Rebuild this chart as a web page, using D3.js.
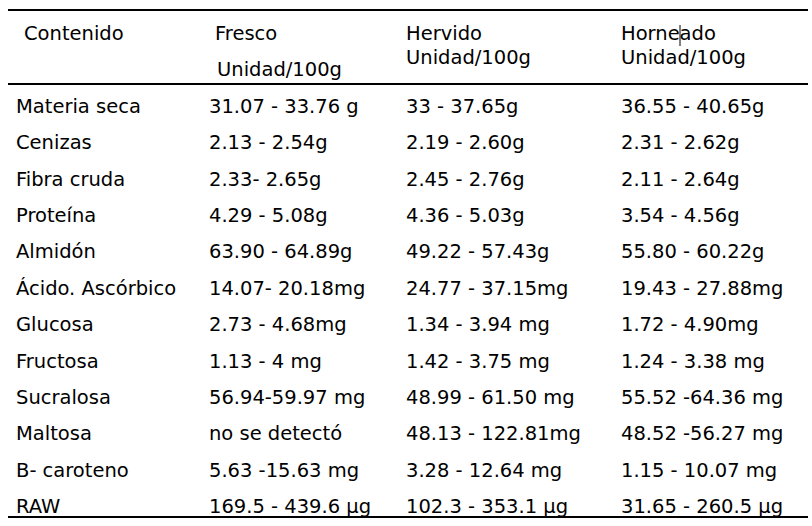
<!DOCTYPE html>
<html><head><meta charset="utf-8">
<script src="https://cdn.jsdelivr.net/npm/d3@7"></script>
<style>body{margin:0;background:#fff}</style>
</head><body>
<div id="chart"></div>
<script>
// table contents
const headers = [["Contenido"], ["Fresco", "Unidad/100g"], ["Hervido", "Unidad/100g"], ["Horneado", "Unidad/100g"]];
const contenido = ["Materia seca", "Cenizas", "Fibra cruda", "Proteína", "Almidón", "Ácido. Ascórbico",
  "Glucosa", "Fructosa", "Sucralosa", "Maltosa", "B- caroteno", "RAW"];
const fresco = ["31.07 - 33.76 g", "2.13 - 2.54g", "2.33- 2.65g", "4.29 - 5.08g", "63.90 - 64.89g",
  "14.07- 20.18mg", "2.73 - 4.68mg", "1.13 - 4 mg", "56.94-59.97 mg", "no se detectó",
  "5.63 -15.63 mg", "169.5 - 439.6 µg"];
const hervido = ["33 - 37.65g", "2.19 - 2.60g", "2.45 - 2.76g", "4.36 - 5.03g", "49.22 - 57.43g",
  "24.77 - 37.15mg", "1.34 - 3.94 mg", "1.42 - 3.75 mg", "48.99 - 61.50 mg", "48.13 - 122.81mg",
  "3.28 - 12.64 mg", "102.3 - 353.1 µg"];
const horneado = ["36.55 - 40.65g", "2.31 - 2.62g", "2.11 - 2.64g", "3.54 - 4.56g", "55.80 - 60.22g",
  "19.43 - 27.88mg", "1.72 - 4.90mg", "1.24 - 3.38 mg", "55.52 -64.36 mg", "48.52 -56.27 mg",
  "1.15 - 10.07 mg", "31.65 - 260.5 µg"];

const width = 812, height = 526;
const svg = d3.select("#chart").append("svg").attr("width", width).attr("height", height)
  .style("font-family", "'DejaVu Sans', Verdana, sans-serif").style("font-size", "19.5px");

const colX = [16, 209, 406, 621];
const rowY = d3.scaleLinear().domain([0, contenido.length - 1]).range([113, 513]);

// rules
[10, 84, 517].forEach(y => svg.append("line")
  .attr("x1", 8).attr("x2", 808).attr("y1", y).attr("y2", y)
  .attr("stroke", "#000").attr("stroke-width", 2));

// headers
const hx = [24, 215, 406, 621];
const hy = [[40], [40, 76], [40, 64], [40, 64]];
headers.forEach((h, i) => h.forEach((t, j) => svg.append("text")
  .attr("x", hx[i] + (i === 1 && j === 1 ? 2 : 0)).attr("y", hy[i][j]).text(t)));
// stray caret in header
svg.append("line").attr("x1", 680).attr("x2", 680).attr("y1", 25).attr("y2", 46)
  .attr("stroke", "#000").attr("stroke-width", 1);

const cols = [contenido, fresco, hervido, horneado];
cols.forEach((col, c) => svg.append("g").selectAll("text").data(col).join("text")
  .attr("x", colX[c]).attr("y", (d, i) => rowY(i)).text(d => d));
</script>
</body></html>
